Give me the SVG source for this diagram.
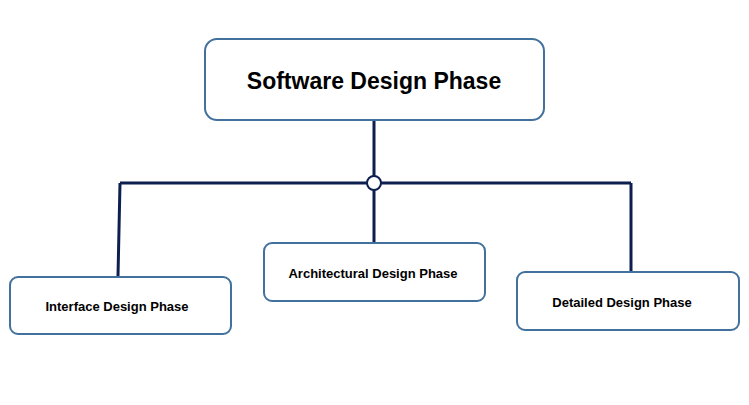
<svg xmlns="http://www.w3.org/2000/svg" width="749" height="405" viewBox="0 0 749 405">
<style>
.box{fill:#fff;stroke:#41719c;stroke-width:2}
.t{font-family:"Liberation Sans",Arial,sans-serif;font-weight:bold;fill:#000;text-anchor:middle}
.c{stroke:#0d1f4f;stroke-width:3;fill:none}
</style>
<rect width="749" height="405" fill="#fff"/>
<g id="connectors">
<path class="c" d="M374,120V176M120,183H367M381,183H631M120,183L118,276M374,190V243M631,183V272"/>
<circle cx="374" cy="183" r="7" fill="#fff" stroke="#0d1f4f" stroke-width="2"/>
</g>
<g id="root"><rect class="box" x="205" y="39" width="339" height="81" rx="12"/><text class="t" x="374" y="89" font-size="23">Software Design Phase</text></g>
<g id="interface"><rect class="box" x="10" y="277" width="221" height="57" rx="8"/><text class="t" x="117" y="311" font-size="13">Interface Design Phase</text></g>
<g id="architectural"><rect class="box" x="264" y="243" width="221" height="58" rx="8"/><text class="t" x="373" y="278" font-size="13">Architectural Design Phase</text></g>
<g id="detailed"><rect class="box" x="517" y="272" width="222" height="58" rx="8"/><text class="t" x="622" y="307" font-size="13">Detailed Design Phase</text></g>
</svg>
